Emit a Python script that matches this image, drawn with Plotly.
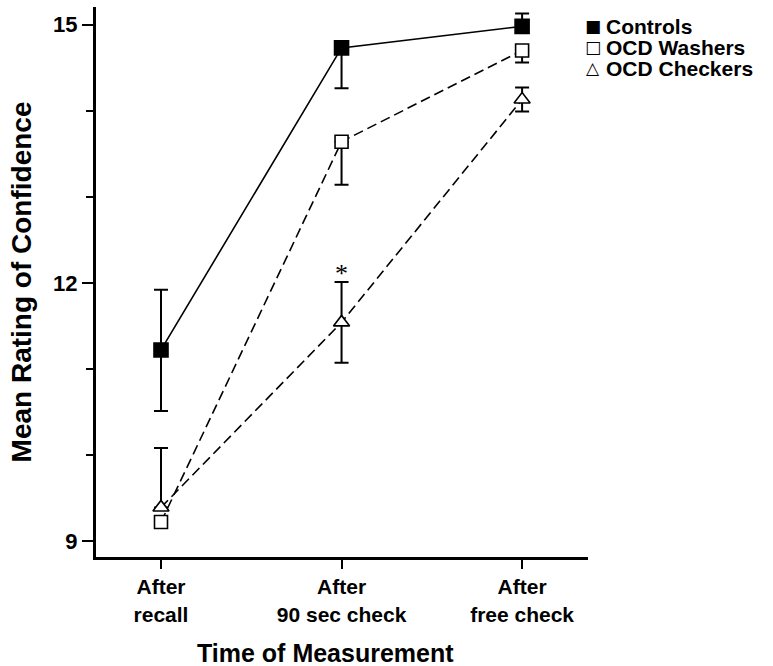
import plotly.graph_objects as go

categories = ["After<br>recall", "After<br>90 sec check", "After<br>free check"]
series_names = ["Controls", "OCD Washers", "OCD Checkers"]
legend_glyphs = ["■", "□", "△"]

controls = [11.22, 14.73, 14.98]
washers = [9.22, 13.64, 14.70]
checkers = [9.39, 11.54, 14.13]

controls_err_up = [0.70, 0.0, 0.15]
controls_err_dn = [0.71, 0.47, 0.0]
washers_err_up = [0.0, 0.0, 0.0]
washers_err_dn = [0.0, 0.50, 0.14]
checkers_err_up = [0.69, 0.47, 0.14]
checkers_err_dn = [0.0, 0.47, 0.14]

y_tick_vals = [9, 12, 15]
x_pos = list(range(len(categories)))

FONT = "Arial, Liberation Sans, sans-serif"
W, H = 773, 666
ML, MR, MT, MB = 96, 185, 7, 109
PW, PH = W - ML - MR, H - MT - MB


def px_to_paper_x(px):
    return (px - ML) / PW


def px_to_paper_y(py):
    return (H - MB - py) / PH


fig = go.Figure()

styles = [
    dict(y=controls, up=controls_err_up, dn=controls_err_dn, dash="solid",
         symbol="square", fill="black", size=14),
    dict(y=washers, up=washers_err_up, dn=washers_err_dn, dash="10px,5px",
         symbol="square", fill="white", size=13),
    dict(y=checkers, up=checkers_err_up, dn=checkers_err_dn, dash="10px,5px",
         symbol="triangle-up", fill="white", size=14),
]

# connecting lines
for name, s in zip(series_names, styles):
    fig.add_trace(go.Scatter(
        x=x_pos, y=s["y"], mode="lines", showlegend=False, hoverinfo="skip",
        line=dict(color="black", width=1.6, dash=s["dash"]),
    ))

# markers + error bars
for name, s in zip(series_names, styles):
    fig.add_trace(go.Scatter(
        x=x_pos, y=s["y"], mode="markers", name=name, showlegend=False,
        marker=dict(symbol=s["symbol"], size=s["size"], color=s["fill"],
                    line=dict(color="black", width=1.6)),
        error_y=dict(type="data", symmetric=False, array=s["up"],
                     arrayminus=s["dn"], color="black", thickness=2, width=7),
    ))

# significance asterisk above checkers at 90 sec check
fig.add_annotation(x=x_pos[1], y=checkers[1] + checkers_err_up[1], text="*",
                   showarrow=False, yshift=8,
                   font=dict(family="Liberation Serif, serif", size=26, color="black"))

# legend (text-based, top right)
row_y = [26, 47, 68]
for name, glyph, ry in zip(series_names, legend_glyphs, row_y):
    fig.add_annotation(xref="paper", yref="paper", x=px_to_paper_x(593),
                       y=px_to_paper_y(ry), text=glyph, showarrow=False,
                       xanchor="center", yanchor="middle",
                       font=dict(family="DejaVu Sans", size=17, color="black",
                                 weight="bold"))
    fig.add_annotation(xref="paper", yref="paper", x=px_to_paper_x(604),
                       y=px_to_paper_y(ry), text=name, showarrow=False,
                       xanchor="left", yanchor="middle",
                       font=dict(family=FONT, size=21, color="black",
                                 weight="bold"))

# x-axis title
fig.add_annotation(xref="paper", yref="paper", x=px_to_paper_x(325),
                   y=px_to_paper_y(653), text="Time of Measurement",
                   showarrow=False, xanchor="center", yanchor="middle",
                   font=dict(family=FONT, size=25, color="black", weight="bold"))

fig.update_layout(
    width=W, height=H,
    margin=dict(l=ML, r=MR, t=MT, b=MB),
    paper_bgcolor="white", plot_bgcolor="white",
    font=dict(family=FONT, color="black"),
    showlegend=False,
)

fig.update_xaxes(
    range=[-0.36, 2.365], tickvals=x_pos, ticktext=categories,
    showline=True, linecolor="black", linewidth=3, mirror=False,
    ticks="outside", ticklen=9, tickwidth=2, tickcolor="black",
    showgrid=False, zeroline=False,
    tickfont=dict(family=FONT, size=21, color="black", weight="bold"),
)

fig.update_yaxes(
    range=[8.814, 15.205], tickvals=y_tick_vals,
    showline=True, linecolor="black", linewidth=3, mirror=False,
    ticks="outside", ticklen=11, tickwidth=2, tickcolor="black",
    minor=dict(dtick=1, tick0=9, ticks="outside", ticklen=7, tickwidth=2,
               tickcolor="black", showgrid=False),
    showgrid=False, zeroline=False,
    tickfont=dict(family=FONT, size=22, color="black", weight="bold"),
    title=dict(text="Mean Rating of Confidence", standoff=14,
               font=dict(family=FONT, size=28, color="black", weight="bold")),
)

fig.write_html("out.html")
